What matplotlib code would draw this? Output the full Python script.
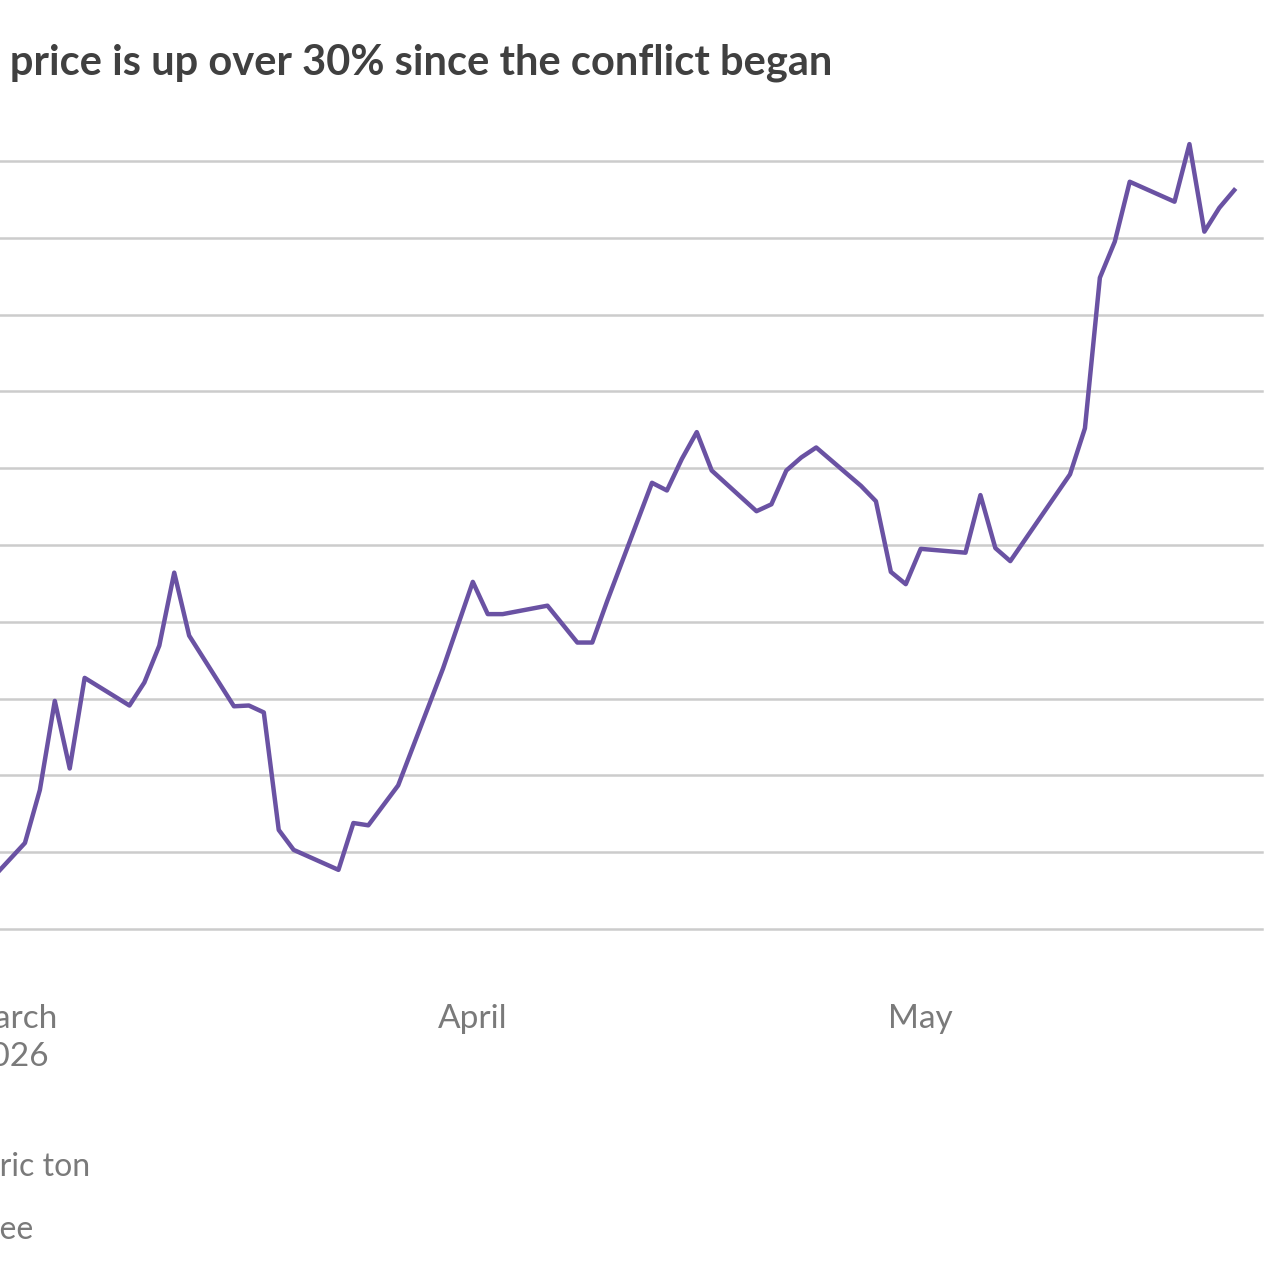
import matplotlib.pyplot as plt
import pandas as pd

plt.rcParams['font.family'] = ['Lato', 'Noto Sans', 'DejaVu Sans']

# trading day offsets from 1 March 2026, and price (USD per metric ton, estimated)
day_offsets = [-1, 1, 2, 3, 4, 5, 8, 9, 10, 11, 12, 15, 16, 17, 18, 19, 22, 23, 24, 26,
               29, 31, 32, 33, 36, 38, 39, 40, 43, 44, 45, 46, 47, 50, 51, 52, 53, 54,
               57, 58, 59, 60, 61, 64, 65, 66, 67, 71, 72, 73, 74, 75, 78, 79, 80, 81, 82]
steps = [0.70, 1.12, 1.81, 2.97, 2.09, 3.27, 2.91, 3.21, 3.69, 4.64, 3.82, 2.90, 2.91,
         2.82, 1.29, 1.03, 0.77, 1.38, 1.35, 1.87, 3.39, 4.52, 4.10, 4.10, 4.21, 3.73,
         3.73, 4.27, 5.81, 5.71, 6.12, 6.47, 5.97, 5.44, 5.53, 5.97, 6.14, 6.27, 5.77,
         5.57, 4.65, 4.49, 4.95, 4.90, 5.65, 4.96, 4.79, 5.92, 6.52, 8.48, 8.95, 9.73,
         9.47, 10.22, 9.08, 9.39, 9.62]
prices = [300 + 10 * s for s in steps]
grid_levels = list(range(300, 401, 10))
tick_dates = ['2026-03-01', '2026-04-01', '2026-05-01']
tick_labels = ['March\n2026', 'April', 'May']

start = pd.Timestamp('2026-03-01')
dates = [start + pd.Timedelta(days=d) for d in day_offsets]

W, H = 1280, 1279
fig = plt.figure(figsize=(W / 100, H / 100), dpi=100)
ax = fig.add_axes([0, 1 - 929 / H, 1262 / W, (929 - 161) / H])

ax.plot(dates, prices, color='#6a52a3', lw=3.2, clip_on=False, zorder=3)
for g in grid_levels:
    ax.axhline(g, color='#cccccc', lw=1.8, zorder=1, clip_on=False)

ax.set_ylim(300, 400)
ax.set_xlim(start + pd.Timedelta(days=-0.67), start + pd.Timedelta(days=83.86))
for s in ax.spines.values():
    s.set_visible(False)
ax.set_yticks([])
ax.set_xticks([pd.Timestamp(t) for t in tick_dates])
ax.set_xticklabels(tick_labels, fontsize=24, color='#7a7a7a', linespacing=1.35, va='top')
ax.tick_params(axis='x', length=0, pad=54)

fig.text(832 / W, 1 - 63 / H, 'Urea price is up over 30% since the conflict began',
         ha='right', va='center', fontsize=30, fontweight='bold', color='#404040')
fig.text(90 / W, 1 - 1167 / H, 'Price per metric ton', ha='right', va='center',
         fontsize=23, color='#7a7a7a')
fig.text(33 / W, 1 - 1230 / H, 'Granular urea, free on board, Middle East, Bloomberg Green Fee',
         ha='right', va='center', fontsize=23, color='#7a7a7a')

fig.savefig('out.png', dpi=100)
